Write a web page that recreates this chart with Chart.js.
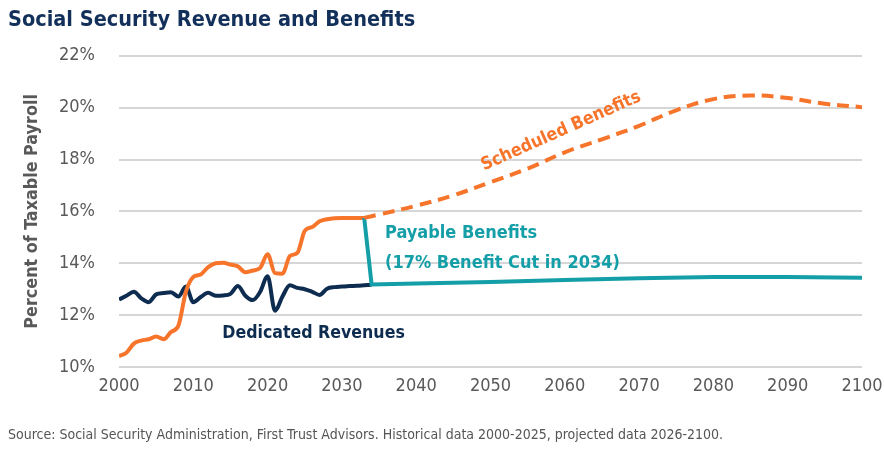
<!DOCTYPE html>
<html>
<head>
<meta charset="utf-8">
<script src="https://cdn.jsdelivr.net/npm/chart.js@4.4.1/dist/chart.umd.min.js"></script>
<style>
    html, body { margin: 0; padding: 0; background: #fff; }
    #wrap { width: 884px; height: 451px; }
</style>
</head>
<body>
<div id="wrap"><canvas id="ssChart"></canvas></div>
<script>
    // Data (percent of taxable payroll)
    const histYears = [2000, 2001, 2002, 2003, 2004, 2005, 2006, 2007, 2008, 2009,
        2010, 2011, 2012, 2013, 2014, 2015, 2016, 2017, 2018, 2019,
        2020, 2021, 2022, 2023, 2024, 2025, 2026, 2027, 2028, 2029,
        2030, 2031, 2032, 2033];
    const revenueYears = histYears.concat([2034]);
    const revenues = [12.6, 12.75, 12.9, 12.65, 12.5, 12.8, 12.85, 12.88, 12.72, 13.1,
        12.5, 12.7, 12.86, 12.75, 12.76, 12.82, 13.12, 12.75, 12.58, 12.9,
        13.5, 12.17, 12.72, 13.15, 13.05, 13.0, 12.9, 12.78, 13.02, 13.08,
        13.1, 13.12, 13.13, 13.15, 13.17];
    const benefitsHist = [10.42, 10.55, 10.9, 11.02, 11.07, 11.18, 11.07, 11.35, 11.6, 12.9,
        13.47, 13.57, 13.85, 14.0, 14.02, 13.95, 13.88, 13.65, 13.72, 13.82,
        14.35, 13.62, 13.6, 14.28, 14.4, 15.25, 15.4, 15.62, 15.7, 15.74,
        15.75, 15.75, 15.75, 15.75];
    const scheduledYears = [2033, 2035, 2040, 2045, 2050, 2055, 2060, 2065, 2070, 2075,
        2080, 2085, 2090, 2095, 2100];
    const scheduled = [15.75, 15.88, 16.22, 16.62, 17.13, 17.65, 18.28, 18.78, 19.3, 19.9,
        20.33, 20.47, 20.37, 20.15, 20.02];
    const payableYears = [2033, 2034, 2040, 2050, 2060, 2070, 2080, 2090, 2100];
    const payable = [15.75, 13.18, 13.22, 13.28, 13.35, 13.42, 13.47, 13.47, 13.44];

    const colors = {
        navy: '#0d2c4f',
        orange: '#f7742b',
        teal: '#149ea7',
        grid: '#d6d6d6',
        text: '#595959'
    };
    const narrow = "'Liberation Sans Narrow', 'DejaVu Sans Condensed', 'Roboto Condensed', sans-serif";

    function toPoints(xs, ys) {
        return xs.map((x, i) => ({ x: x, y: ys[i] }));
    }

    // Text labels placed in data coordinates
    const notes = [
        { text: 'Scheduled Benefits', x: 2059.5, y: 19.09, color: colors.orange, size: 17.7, angle: -24, align: 'center' },
        { text: 'Payable Benefits', x: 2035.8, y: 15.15, color: colors.teal, size: 18, angle: 0, align: 'left' },
        { text: '(17% Benefit Cut in 2034)', x: 2035.8, y: 13.98, color: colors.teal, size: 18, angle: 0, align: 'left' },
        { text: 'Dedicated Revenues', x: 2013.9, y: 11.28, color: colors.navy, size: 17.6, angle: 0, align: 'left' }
    ];

    const notesPlugin = {
        id: 'notes',
        afterDatasetsDraw(chart) {
            const ctx = chart.ctx;
            const xs = chart.scales.x, ys = chart.scales.y;
            notes.forEach(n => {
                ctx.save();
                ctx.translate(xs.getPixelForValue(n.x), ys.getPixelForValue(n.y));
                ctx.rotate(n.angle * Math.PI / 180);
                ctx.font = 'bold ' + n.size + 'px ' + narrow;
                ctx.fillStyle = n.color;
                ctx.textAlign = n.align;
                ctx.textBaseline = 'middle';
                ctx.fillText(n.text, 0, 0);
                ctx.restore();
            });
        }
    };

    new Chart(document.getElementById('ssChart'), {
        type: 'line',
        data: {
            datasets: [{
                label: 'Scheduled Benefits (projected)',
                data: toPoints(scheduledYears, scheduled),
                borderColor: colors.orange,
                borderWidth: 4,
                borderDash: [12, 7],
                tension: 0.4,
                pointRadius: 0
            }, {
                label: 'Payable Benefits',
                data: toPoints(payableYears, payable),
                borderColor: colors.teal,
                borderWidth: 4,
                tension: 0,
                pointRadius: 0
            }, {
                label: 'Scheduled Benefits',
                data: toPoints(histYears, benefitsHist),
                borderColor: colors.orange,
                borderWidth: 4,
                cubicInterpolationMode: 'monotone',
                pointRadius: 0
            }, {
                label: 'Dedicated Revenues',
                data: toPoints(revenueYears, revenues),
                borderColor: colors.navy,
                borderWidth: 4,
                cubicInterpolationMode: 'monotone',
                pointRadius: 0
            }]
        },
        options: {
            responsive: true,
            maintainAspectRatio: false,
            animation: false,
            layout: {
                padding: { left: 8, right: 22, top: 0, bottom: 0 }
            },
            plugins: {
                legend: { display: false },
                tooltip: { enabled: false },
                title: {
                    display: true,
                    text: 'Social Security Revenue and Benefits',
                    align: 'start',
                    color: '#13305a',
                    font: { family: narrow, size: 21.5, weight: 'bold' },
                    padding: { top: 8, bottom: 22 }
                },
                subtitle: {
                    display: true,
                    position: 'bottom',
                    text: 'Source: Social Security Administration, First Trust Advisors. Historical data 2000-2025, projected data 2026-2100.',
                    align: 'start',
                    color: '#555555',
                    font: { family: narrow, size: 14 },
                    padding: { top: 20, bottom: 7.6 }
                }
            },
            scales: {
                x: {
                    type: 'linear',
                    min: 2000,
                    max: 2100,
                    afterFit: scale => { scale.paddingRight = 0; },
                    grid: { display: false, drawTicks: false },
                    border: { display: false },
                    ticks: {
                        stepSize: 10,
                        padding: 9,
                        color: colors.text,
                        font: { family: narrow, size: 18 },
                        callback: v => String(v)
                    }
                },
                y: {
                    min: 10,
                    max: 22,
                    afterFit: scale => { scale.width = 111; },
                    grid: { color: colors.grid, lineWidth: 2, drawTicks: false },
                    border: { display: false },
                    ticks: {
                        stepSize: 2,
                        padding: 24,
                        color: colors.text,
                        font: { family: narrow, size: 18 },
                        callback: v => v + '%'
                    },
                    title: {
                        display: true,
                        text: 'Percent of Taxable Payroll',
                        color: colors.text,
                        font: { family: narrow, size: 17.8, weight: 'bold' },
                        padding: { top: 13.5, bottom: 0 }
                    }
                }
            }
        },
        plugins: [notesPlugin]
    });
</script>
</body>
</html>
